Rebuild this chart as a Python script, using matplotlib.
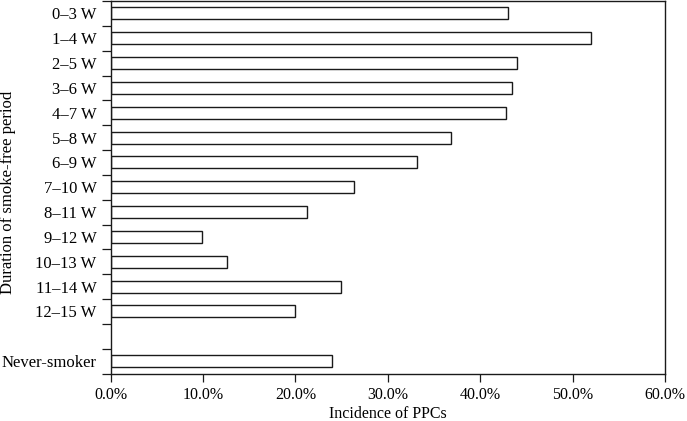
import numpy as np
import matplotlib
matplotlib.use("Agg")
import matplotlib.pyplot as plt
from matplotlib.ticker import PercentFormatter

categories = ['0–3 W', '1–4 W', '2–5 W', '3–6 W', '4–7 W', '5–8 W', '6–9 W',
              '7–10 W', '8–11 W', '9–12 W', '10–13 W', '11–14 W', '12–15 W',
              '', 'Never-smoker']
incidence = [43.0, 52.0, 44.0, 43.4, 42.8, 36.8, 33.2,
             26.3, 21.3, 9.9, 12.6, 24.9, 20.0,
             np.nan, 24.0]
x_ticks = [0, 10, 20, 30, 40, 50, 60]

plt.rcParams['font.family'] = ['Liberation Serif', 'DejaVu Serif']
plt.rcParams['font.size'] = 11.5

fig = plt.figure(figsize=(6.87, 4.21), dpi=100)
ax = fig.add_axes([110.5 / 687, 1 - 373.5 / 421, (665 - 110.5) / 687, 372.5 / 421])

pos = np.arange(len(categories))
vals = np.nan_to_num(np.array(incidence, dtype=float))
bars = ax.barh(pos, vals, height=0.48, color='white', edgecolor='#1a1a1a', linewidth=1.0)
for b, v in zip(bars, incidence):
    if np.isnan(v):
        b.set_visible(False)

ax.set_ylim(len(categories) - 0.5, -0.5)
ax.set_xlim(0, 60)
ax.set_xticks(x_ticks)
ax.xaxis.set_major_formatter(PercentFormatter(decimals=1))

# labels at bar centres, tick marks at slot boundaries
ax.set_yticks(np.arange(len(categories) + 1) - 0.5)
ax.set_yticklabels([])
ax.set_yticks(pos, minor=True)
ax.set_yticklabels(categories, minor=True, fontsize=12)
ax.tick_params(axis='y', which='major', length=6.5, width=0.9, color='#1a1a1a')
ax.tick_params(axis='y', which='minor', length=0, pad=10)
ax.tick_params(axis='x', length=6, width=0.9, color='#1a1a1a', pad=4)

for s in ax.spines.values():
    s.set_linewidth(1.0)
    s.set_color('#1a1a1a')

ax.set_xlabel('Incidence of PPCs', labelpad=2)
ax.set_ylabel('Duration of smoke-free period', fontsize=12)
ax.yaxis.set_label_coords(-0.17, 0.487)

fig.savefig('out.png', dpi=100)
